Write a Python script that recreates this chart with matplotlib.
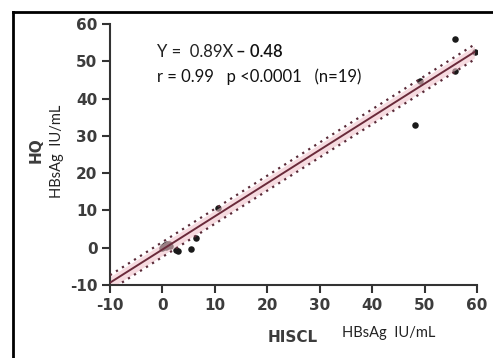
import matplotlib
matplotlib.use("Agg")
import matplotlib.pyplot as plt
import numpy as np

# HBsAg IU/mL measured by HISCL (x) and HQ (y)
hiscl = [55.8, 59.7, 55.8, 49.2, 48.2, 10.6, 6.4, 5.5,
         0.5, 0.2, 0.8, 1.2, 0.0, 0.3, 2.5, 3.0, 1.5, 0.1, 0.6]
hq = [56.0, 52.5, 47.4, 44.7, 33.0, 10.6, 2.6, -0.3,
      0.7, 0.3, 0.9, 1.0, 0.0, 0.4, -0.5, -0.8, 0.5, 0.1, 0.2]

slope = 0.89
intercept = -0.48
ci_half = 1.6     # confidence band half width
pi_half = 2.0     # dotted band half width
fit_range = [-10, 59.5]

xticks = [-10, 0, 10, 20, 30, 40, 50, 60]
yticks = [-10, 0, 10, 20, 30, 40, 50, 60]

plt.rcParams['axes.unicode_minus'] = False

fig = plt.figure(figsize=(4.93, 3.58), dpi=100)
ax = fig.add_axes([110 / 493, 1 - 285 / 358, 367 / 493, 261 / 358])

ax.scatter(hiscl, hq, s=22, c='#1a1a1a', linewidth=0, zorder=1)

xf = np.linspace(fit_range[0], fit_range[1], 50)
yf = slope * xf + intercept
ax.fill_between(xf, yf - ci_half, yf + ci_half, color='#f0c4cc', alpha=0.6,
                linewidth=0, zorder=2)
ax.plot(xf, yf, color='#6a2a3a', linewidth=1.4, zorder=3)
for off in [-pi_half, pi_half]:
    ax.plot(xf, yf + off, color='#5a2a38', linewidth=1.6,
            linestyle=(0, (1, 2.2)), zorder=3)

ax.set_xlim(-10, 60)
ax.set_ylim(-10, 60)
ax.set_xticks(xticks)
ax.set_yticks(yticks)
for s in ['top', 'right']:
    ax.spines[s].set_visible(False)
for s in ['left', 'bottom']:
    ax.spines[s].set_linewidth(1.5)
    ax.spines[s].set_color('#333333')
ax.tick_params(direction='out', length=6, width=1.5, color='#333333',
               labelsize=11, labelcolor='#3c3c3c', pad=3)
for lab in ax.get_xticklabels() + ax.get_yticklabels():
    lab.set_fontweight('bold')

tf = ['Lato', 'DejaVu Sans']
fig.text(157 / 493, 1 - 52 / 358, 'Y =  0.89X', fontsize=12, family=tf,
         color='#222222', va='center')
fig.text(236 / 493, 1 - 52 / 358, '\u2013 0.48', fontsize=12, family=tf,
         color='#111111', va='center', fontweight='semibold')
fig.text(157 / 493, 1 - 77 / 358, 'r = 0.99   p <0.0001   (n=19)', fontsize=12,
         family=tf, color='#111111', va='center')

fig.text(293 / 493, 1 - 337 / 358, 'HISCL', fontsize=11, fontweight='bold',
         color='#3c3c3c', ha='center', va='center')
fig.text(389 / 493, 1 - 333 / 358, 'HBsAg  IU/mL', fontsize=10.5, family=tf,
         color='#222222', ha='center', va='center')
fig.text(36 / 493, 1 - 150 / 358, 'HQ', fontsize=11, fontweight='bold',
         color='#3c3c3c', rotation=90, ha='center', va='center')
fig.text(57 / 493, 1 - 151 / 358, 'HBsAg  IU/mL', fontsize=10.5, family=tf,
         color='#222222', rotation=90, ha='center', va='center')

# outer frame (top and left edges visible)
fig.add_artist(plt.Line2D([13 / 493, 1], [1 - 12 / 358, 1 - 12 / 358],
                          transform=fig.transFigure, color='black', linewidth=2))
fig.add_artist(plt.Line2D([13 / 493, 13 / 493], [0, 1 - 12 / 358],
                          transform=fig.transFigure, color='black', linewidth=2))

fig.savefig('out.png', dpi=100)
